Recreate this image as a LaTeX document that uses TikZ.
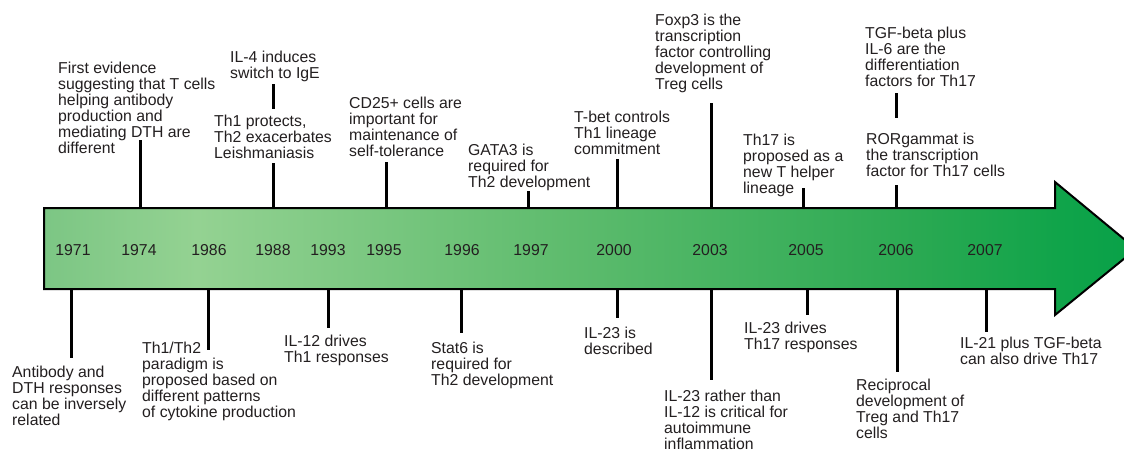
\documentclass[tikz,border=0pt]{standalone}
\usepackage{fontspec}
\setmainfont{Liberation Sans}
\definecolor{gA}{HTML}{7CC684}
\definecolor{gB}{HTML}{94D292}
\definecolor{gC}{HTML}{5FBC6E}
\definecolor{gD}{HTML}{2AA952}
\definecolor{gE}{HTML}{10A44A}
\definecolor{gF}{HTML}{08A148}
\definecolor{txt}{HTML}{231F20}
\pgfdeclarehorizontalshading{barshade}{100bp}{color(0bp)=(gA); color(25bp)=(gA); color(32bp)=(gB); color(48.6bp)=(gC); color(65bp)=(gD); color(71.5bp)=(gE); color(75bp)=(gF); color(100bp)=(gF)}
\tikzset{
  lbl/.style={anchor=north west, inner sep=0pt, align=left, font=\fontsize{15.8}{16}\selectfont, text=txt},
  yr/.style={anchor=center, inner sep=0pt, font=\fontsize{15.8}{16}\selectfont, text=txt},
  tick/.style={line width=3pt, black},
}
\begin{document}
\begin{tikzpicture}[x=1pt,y=-1pt]
\useasboundingbox[fill=white] (0,0) rectangle (1124,451);
% arrow
\path[shading=barshade, draw=black, line width=2pt, line join=miter]
  (44,208) -- (1055,208) -- (1055,182) -- (1136,249) -- (1055,315) -- (1055,289) -- (44,289) -- cycle;
% years
\node[yr] (y1971) at (73,250) {1971};
\node[yr] (y1974) at (139,250) {1974};
\node[yr] (y1986) at (209,250) {1986};
\node[yr] (y1988) at (273,250) {1988};
\node[yr] (y1993) at (328,250) {1993};
\node[yr] (y1995) at (384,250) {1995};
\node[yr] (y1996) at (462,250) {1996};
\node[yr] (y1997) at (531,250) {1997};
\node[yr] (y2000) at (614,250) {2000};
\node[yr] (y2003) at (710,250) {2003};
\node[yr] (y2005) at (806,250) {2005};
\node[yr] (y2006) at (896,250) {2006};
\node[yr] (y2007) at (985,250) {2007};
% upper labels
\node[lbl] (u1974) at (58,62) {First evidence\\suggesting that T cells\\helping antibody\\production and\\mediating DTH are\\different};
\node[lbl] (u1988a) at (230,51) {IL-4 induces\\switch to IgE};
\node[lbl] (u1988b) at (214,115) {Th1 protects,\\Th2 exacerbates\\Leishmaniasis};
\node[lbl] (u1995) at (349,97) {CD25+ cells are\\important for\\maintenance of\\self-tolerance};
\node[lbl] (u1997) at (468,144) {GATA3 is\\required for\\Th2 development};
\node[lbl] (u2000) at (574,111) {T-bet controls\\Th1 lineage\\commitment};
\node[lbl] (u2003) at (655,14) {Foxp3 is the\\transcription\\factor controlling\\development of\\Treg cells};
\node[lbl] (u2005) at (743,134) {Th17 is\\proposed as a\\new T helper\\lineage};
\node[lbl] (u2006a) at (865,27) {TGF-beta plus\\IL-6 are the\\differentiation\\factors for Th17};
\node[lbl] (u2006b) at (866,133) {RORgammat is\\the transcription\\factor for Th17 cells};
% lower labels
\node[lbl] (l1971) at (12,366) {Antibody and\\DTH responses\\can be inversely\\related};
\node[lbl] (l1986) at (142,342) {Th1/Th2\\paradigm is\\proposed based on\\different patterns\\of cytokine production};
\node[lbl] (l1993) at (284,335) {IL-12 drives\\Th1 responses};
\node[lbl] (l1996) at (431,342) {Stat6 is\\required for\\Th2 development};
\node[lbl] (l2000) at (584,327) {IL-23 is\\described};
\node[lbl] (l2003) at (664,390) {IL-23 rather than\\IL-12 is critical for\\autoimmune\\inflammation};
\node[lbl] (l2005) at (744,322) {IL-23 drives\\Th17 responses};
\node[lbl] (l2006) at (856,379) {Reciprocal\\development of\\Treg and Th17\\cells};
\node[lbl] (l2007) at (960,337) {IL-21 plus TGF-beta\\can also drive Th17};
% tick coordinates
\coordinate (a1974) at (140,140); \coordinate (b1974) at (140,208);
\coordinate (a1988a) at (273,84); \coordinate (b1988a) at (273,109);
\coordinate (a1988b) at (273,163); \coordinate (b1988b) at (273,208);
\coordinate (a1995) at (386,162); \coordinate (b1995) at (386,208);
\coordinate (a1997) at (528,191); \coordinate (b1997) at (528,208);
\coordinate (a2000) at (617,159); \coordinate (b2000) at (617,208);
\coordinate (a2003) at (711,103); \coordinate (b2003) at (711,208);
\coordinate (a2005) at (803,188); \coordinate (b2005) at (803,208);
\coordinate (a2006a) at (896,93); \coordinate (b2006a) at (896,118);
\coordinate (a2006b) at (896,185); \coordinate (b2006b) at (896,208);
\coordinate (c1971) at (71,289); \coordinate (d1971) at (71,358);
\coordinate (c1986) at (208,289); \coordinate (d1986) at (208,350);
\coordinate (c1993) at (328,289); \coordinate (d1993) at (328,328);
\coordinate (c1996) at (461,289); \coordinate (d1996) at (461,333);
\coordinate (c2000) at (617,289); \coordinate (d2000) at (617,318);
\coordinate (c2003) at (711,289); \coordinate (d2003) at (711,380);
\coordinate (c2005) at (807,289); \coordinate (d2005) at (807,315);
\coordinate (c2006) at (897,289); \coordinate (d2006) at (897,372);
\coordinate (c2007) at (986,289); \coordinate (d2007) at (986,332);
\foreach \t in {1974,1988a,1988b,1995,1997,2000,2003,2005,2006a,2006b}
  \draw[tick] (a\t) -- (b\t);
\foreach \t in {1971,1986,1993,1996,2000,2003,2005,2006,2007}
  \draw[tick] (c\t) -- (d\t);
\end{tikzpicture}
\end{document}
